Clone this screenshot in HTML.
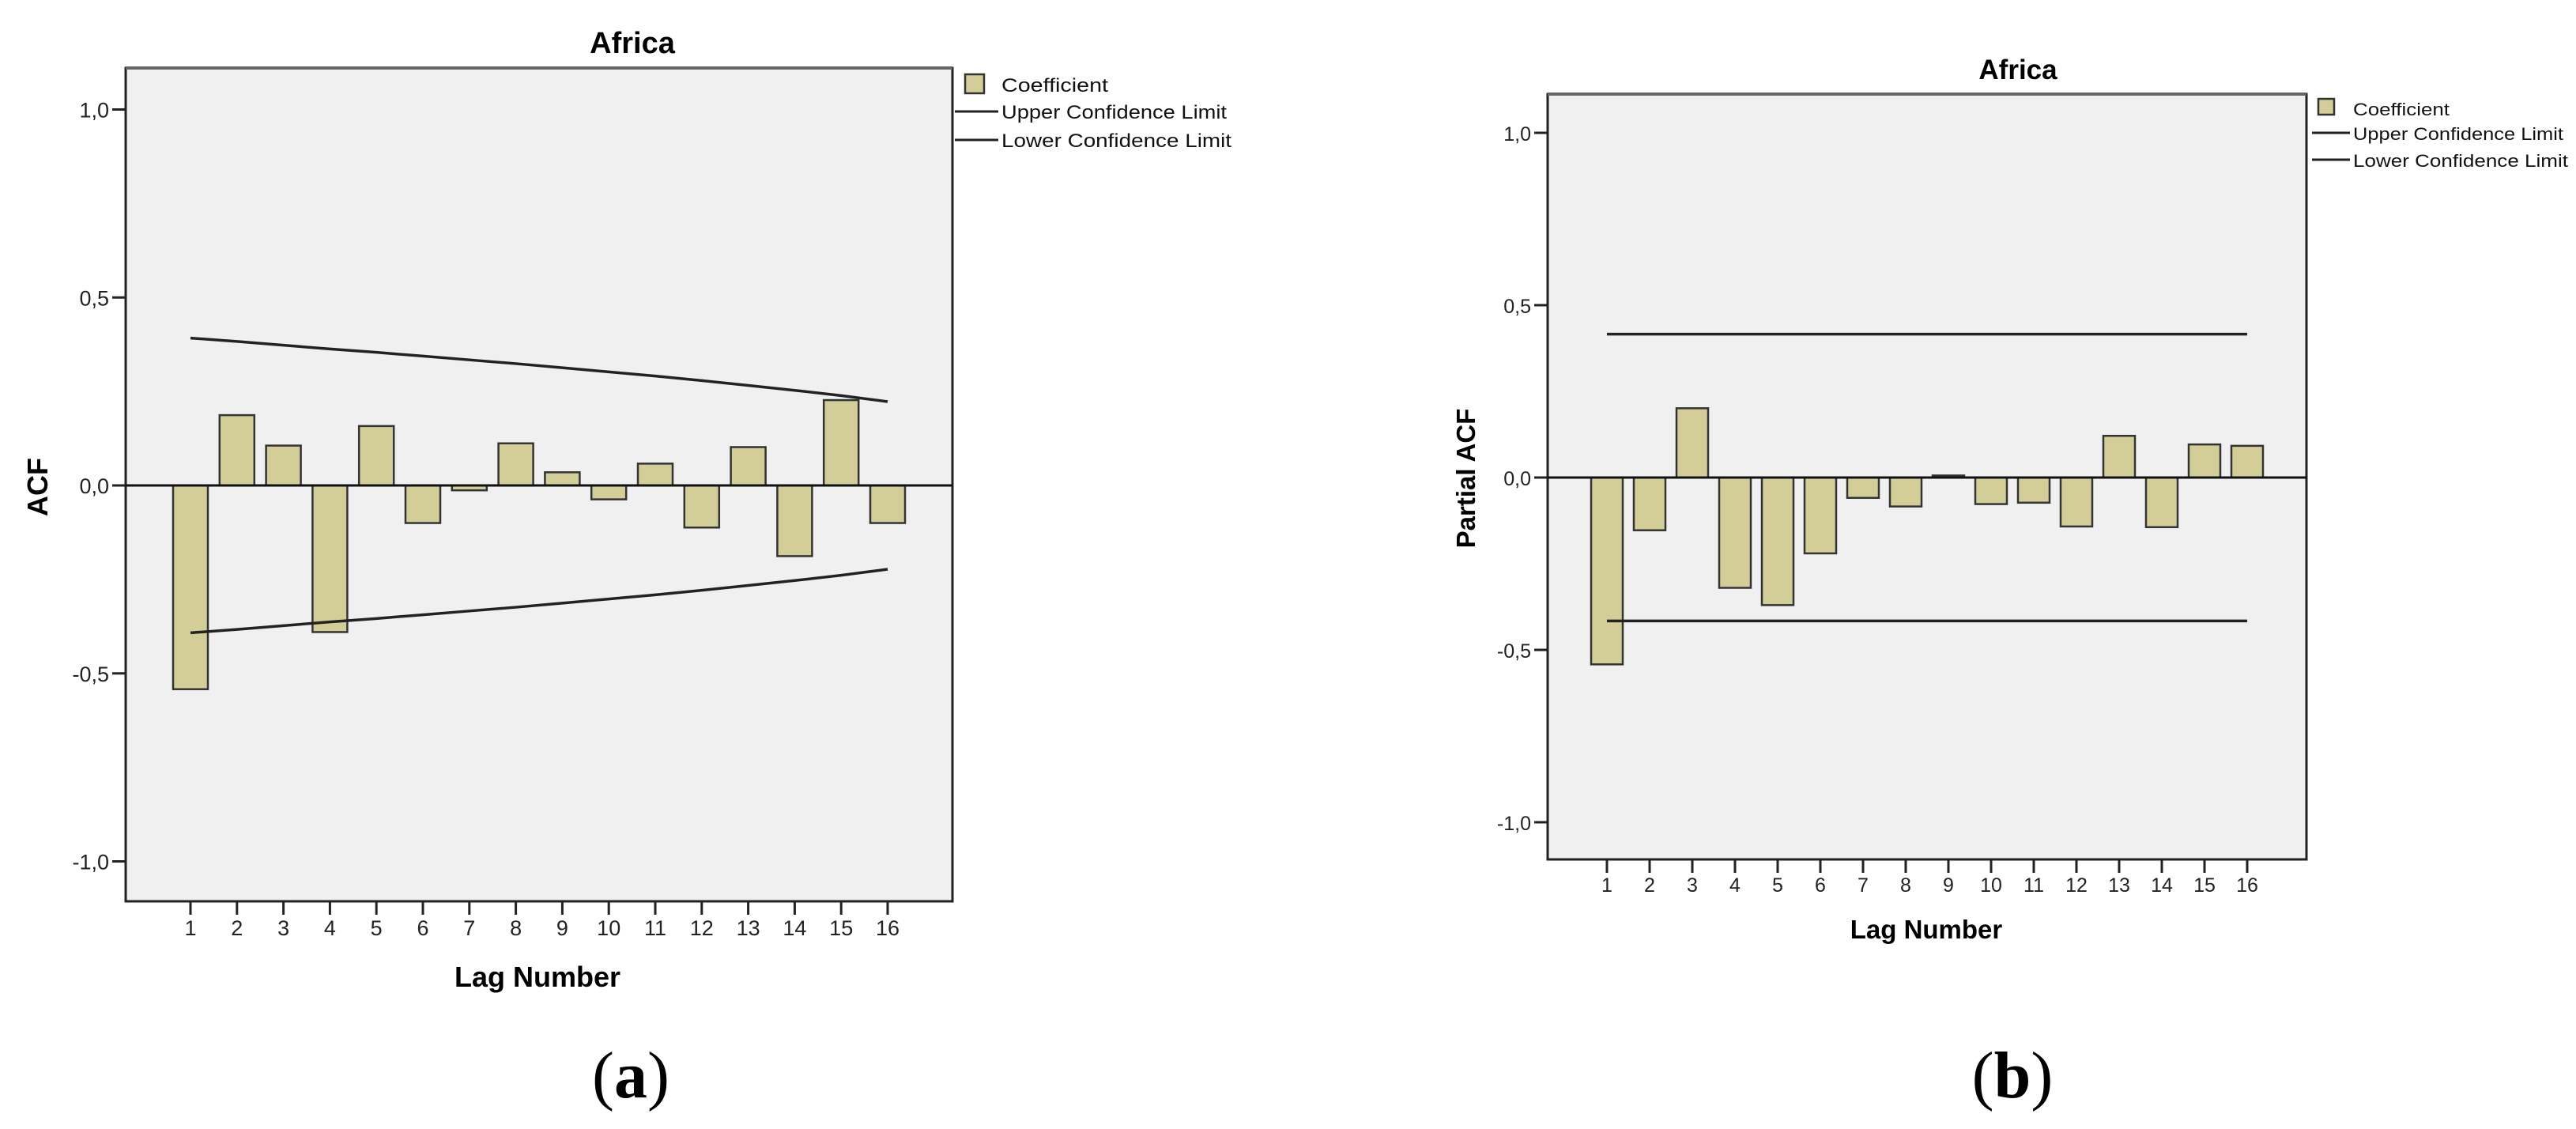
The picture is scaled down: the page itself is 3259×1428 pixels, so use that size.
<!DOCTYPE html>
<html><head><meta charset="utf-8"><style>
html,body{margin:0;padding:0;background:#fff;}
svg{display:block;}
text{font-family:"Liberation Sans",Arial,sans-serif;}
text.cap{font-family:"Liberation Serif","Times New Roman",serif;}
</style></head><body>
<svg id="chart" width="3259" height="1428" viewBox="0 0 3259 1428" xmlns="http://www.w3.org/2000/svg">
<rect width="3259" height="1428" fill="#fff"/>
</svg>
<script>
const lags = [1,2,3,4,5,6,7,8,9,10,11,12,13,14,15,16];
const acfValues = [-0.542,0.187,0.106,-0.39,0.158,-0.1,-0.013,0.112,0.035,-0.037,0.058,-0.112,0.102,-0.188,0.227,-0.1];
const acfUpper = [0.392,0.383,0.373,0.363,0.354,0.344,0.334,0.324,0.313,0.302,0.291,0.279,0.266,0.253,0.239,0.223];
const acfLower = [-0.392,-0.383,-0.373,-0.363,-0.354,-0.344,-0.334,-0.324,-0.313,-0.302,-0.291,-0.279,-0.266,-0.253,-0.239,-0.223];
const pacfValues = [-0.542,-0.153,0.201,-0.32,-0.37,-0.22,-0.059,-0.084,0.006,-0.077,-0.073,-0.142,0.121,-0.144,0.096,0.092];
const pacfUpper = [0.416,0.416,0.416,0.416,0.416,0.416,0.416,0.416,0.416,0.416,0.416,0.416,0.416,0.416,0.416,0.416];
const pacfLower = [-0.416,-0.416,-0.416,-0.416,-0.416,-0.416,-0.416,-0.416,-0.416,-0.416,-0.416,-0.416,-0.416,-0.416,-0.416,-0.416];
const yTicks = [1.0,0.5,0.0,-0.5,-1.0];
const yTickLabels = ["1,0","0,5","0,0","-0,5","-1,0"];
const legendLabels = ["Coefficient","Upper Confidence Limit","Lower Confidence Limit"];

const svg = document.getElementById('chart');
const NS = 'http://www.w3.org/2000/svg';
function mk(tag, attrs, parent){
  const e = document.createElementNS(NS, tag);
  for (const k in attrs) e.setAttribute(k, attrs[k]);
  (parent||svg).appendChild(e);
  return e;
}

function drawPanel(cfg){
  const g = mk('g', {});
  
  
  const L=cfg.left, R=cfg.right, T=cfg.top, B=cfg.bottom;
  const y = v => cfg.zeroY - v*cfg.unit;
  const x = lag => cfg.x1 + (lag-1)*cfg.step;

  const bg = mk('rect', {x:L, y:T, width:R-L, height:B-T, fill:'#f0f0f0', stroke:'#222', 'stroke-width':3}, g);
  
  
  mk('line', {x1:L, y1:T, x2:R, y2:T, stroke:'#666', 'stroke-width':4}, g);

  const title = mk('text', {x:cfg.titleX, y:cfg.titleY, 'font-size':cfg.titleSize, 'font-weight':'bold', 'text-anchor':'middle', fill:'#000'}, g);
  title.textContent = 'Africa';
  
  

  for (let i=0;i<yTicks.length;i++){
    const yy = y(yTicks[i]);
    mk('line', {x1:L-17, y1:yy, x2:L, y2:yy, stroke:'#222', 'stroke-width':3}, g);
    const t = mk('text', {x:L-21, y:yy+10, 'font-size':cfg.tickSize, 'text-anchor':'end', fill:'#222'}, g);
    t.textContent = yTickLabels[i];
    
    
  }
  for (let i=0;i<lags.length;i++){
    const xx = x(lags[i]);
    mk('line', {x1:xx, y1:B, x2:xx, y2:B+17, stroke:'#222', 'stroke-width':3}, g);
    const t = mk('text', {x:xx, y:cfg.tickLabelY, 'font-size':cfg.tickSize, 'text-anchor':'middle', fill:'#222'}, g);
    t.textContent = String(lags[i]);
    
    
  }
  for (let i=0;i<lags.length;i++){
    const v = cfg.values[i];
    const y0 = y(0), yv = y(v);
    const r = mk('rect', {x:x(lags[i])-cfg.barW/2, y:Math.min(y0,yv), width:cfg.barW, height:Math.max(Math.abs(yv-y0),1.5), fill:'#d3ce98', stroke:'#333', 'stroke-width':2.5}, g);
    
    
  }
  const z = mk('line', {x1:L, y1:y(0), x2:R, y2:y(0), stroke:'#111', 'stroke-width':3}, g);
  
  
  const up = mk('polyline', {points: lags.map((l,i)=>x(l)+','+y(cfg.upper[i])).join(' '), fill:'none', stroke:'#222', 'stroke-width':3.5}, g);
  
  
  const lo = mk('polyline', {points: lags.map((l,i)=>x(l)+','+y(cfg.lower[i])).join(' '), fill:'none', stroke:'#222', 'stroke-width':3.5}, g);
  
  

  const yt = mk('text', {x:0, y:0, 'font-size':cfg.axisSize, 'font-weight':'bold', 'text-anchor':'middle', fill:'#000', transform:'translate('+cfg.yTitleX+','+cfg.yTitleY+') rotate(-90)'}, g);
  yt.textContent = cfg.yTitle;
  
  
  const xt = mk('text', {x:cfg.xTitleX, y:cfg.xTitleY, 'font-size':cfg.axisSize, 'font-weight':'bold', 'text-anchor':'middle', fill:'#000'}, g);
  xt.textContent = 'Lag Number';
  
  

  const lg = mk('g', {}, g);
  
  
  mk('rect', {x:cfg.legSqX, y:cfg.legSqY, width:cfg.legSq, height:cfg.legSq, fill:'#d3ce98', stroke:'#333', 'stroke-width':2.5}, lg);
  for (let i=0;i<3;i++){
    if (i>0) mk('line', {x1:cfg.legLineX1, y1:cfg.legLineY[i-1], x2:cfg.legLineX2, y2:cfg.legLineY[i-1], stroke:'#222', 'stroke-width':3}, lg);
    const t = mk('text', {x:cfg.legTextX, y:cfg.legBase[i], 'font-size':cfg.legSize, fill:'#111', textLength:cfg.legLen[i], lengthAdjust:'spacingAndGlyphs'}, lg);
    t.textContent = legendLabels[i];
    
    
  }

  const cap = mk('text', {x:cfg.capX, y:1388, 'font-size':84, 'text-anchor':'middle', fill:'#000', 'class':'cap'}, g);
  cap.innerHTML = '(<tspan font-weight="bold">' + cfg.capLetter + '</tspan>)';
  
  
}

drawPanel({prefix:'acf', left:159, right:1205, top:86, bottom:1140, zeroY:614, unit:475.5,
  x1:241, step:58.8, barW:44, values:acfValues, upper:acfUpper, lower:acfLower,
  titleX:800, titleY:67, titleSize:38, tickSize:27, tickLabelY:1183, axisSize:36,
  yTitle:'ACF', yTitleX:60, yTitleY:616, xTitleX:680, xTitleY:1248,
  legSqX:1221, legSqY:94, legSq:24, legLineX1:1208, legLineX2:1263, legLineY:[141,177],
  legTextX:1267, legBase:[116,150,186], legSize:24, legLen:[135,285,291], capX:798, capLetter:'a'});

drawPanel({prefix:'pacf', left:1958, right:2918, top:119, bottom:1087, zeroY:604, unit:436,
  x1:2033, step:54, barW:40, values:pacfValues, upper:pacfUpper, lower:pacfLower,
  titleX:2553, titleY:100, titleSize:35, tickSize:25, tickLabelY:1128, axisSize:33,
  yTitle:'Partial ACF', yTitleX:1866, yTitleY:605, xTitleX:2437, xTitleY:1187,
  legSqX:2933, legSqY:125, legSq:20, legLineX1:2925, legLineX2:2973, legLineY:[168,202],
  legTextX:2977, legBase:[146,177,211], legSize:22, legLen:[122,266,272], capX:2546, capLetter:'b'});
</script>
</body></html>
